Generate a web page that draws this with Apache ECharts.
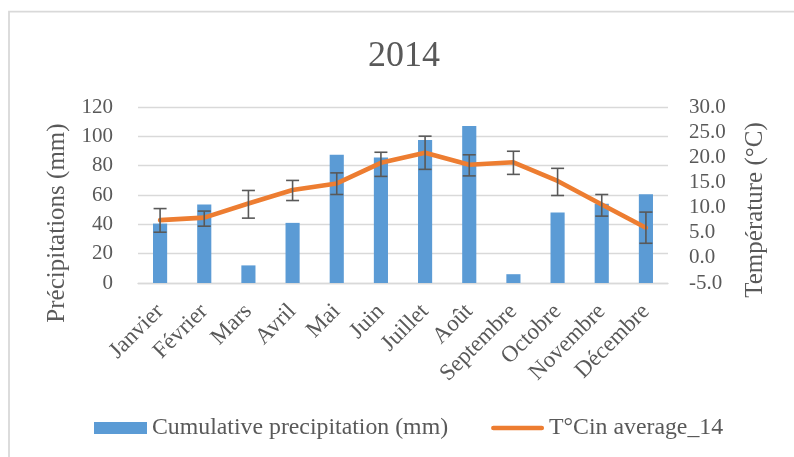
<!DOCTYPE html>
<html>
<head>
<meta charset="utf-8">
<script src="https://cdn.jsdelivr.net/npm/echarts@6/dist/echarts.min.js"></script>
<style>
  html, body { margin: 0; padding: 0; background: #ffffff; }
  #chart { width: 794px; height: 457px; }
</style>
</head>
<body>
<div id="chart"></div>
<script>
// Monthly data for 2014
const months = ['Janvier', 'Février', 'Mars', 'Avril', 'Mai', 'Juin', 'Juillet', 'Août', 'Septembre', 'Octobre', 'Novembre', 'Décembre'];
const precipitation = [40.5, 53.5, 12, 41, 87.5, 85.5, 97.5, 107, 6, 48, 54, 60.5];
const temperature = [7.5, 8.0, 10.8, 13.5, 14.8, 18.9, 20.9, 18.5, 19.0, 15.3, 10.6, 6.0];
const temperatureLow = [5.1, 6.3, 7.9, 11.4, 12.6, 16.2, 17.6, 16.3, 16.6, 12.4, 8.3, 2.9];
const temperatureHigh = [9.8, 9.3, 13.4, 15.4, 16.9, 21.0, 24.2, 20.5, 21.2, 17.8, 12.6, 9.1];

const precipName = 'Cumulative precipitation (mm)';
const tempName = 'T°Cin average_14';

const FONT = '"Liberation Serif", "Times New Roman", serif';
const TEXT = '#595959';
const GRID = '#d9d9d9';
const BLUE = '#5b9bd5';
const ORANGE = '#ed7d31';

// thin bar with rounded ends, used as the legend key of the temperature line
const LINE_KEY = 'path://M2.5 0H53.5A2.5 2.5 0 0 1 53.5 5H2.5A2.5 2.5 0 0 1 2.5 0Z';

const chart = echarts.init(document.getElementById('chart'), null, { renderer: 'canvas' });

// whisker drawn for each month: vertical stem plus two caps
function renderErrorBar(params, api) {
  const hi = api.coord([api.value(0), api.value(2)]);
  const lo = api.coord([api.value(0), api.value(1)]);
  const half = 6.5;
  const style = { stroke: '#595959', lineWidth: 1.6, fill: null };
  return {
    type: 'group',
    children: [
      { type: 'line', shape: { x1: hi[0], y1: hi[1], x2: lo[0], y2: lo[1] }, style: style },
      { type: 'line', shape: { x1: hi[0] - half, y1: hi[1], x2: hi[0] + half, y2: hi[1] }, style: style },
      { type: 'line', shape: { x1: lo[0] - half, y1: lo[1], x2: lo[0] + half, y2: lo[1] }, style: style }
    ]
  };
}

const option = {
  backgroundColor: '#ffffff',
  animation: false,
  textStyle: { fontFamily: FONT, color: TEXT },
  title: {
    text: '2014',
    left: 399,
    textAlign: 'center',
    top: 34,
    textStyle: { fontFamily: FONT, fontSize: 36, fontWeight: 'normal', color: TEXT }
  },
  graphic: [
    {
      type: 'rect',
      shape: { x: 9, y: 11.7, width: 820, height: 480 },
      style: { fill: null, stroke: GRID, lineWidth: 1.8 },
      silent: true
    }
  ],
  legend: {
    left: 94,
    top: 416,
    padding: 0,
    itemGap: 43,
    itemWidth: 53,
    itemHeight: 12,
    textStyle: { fontFamily: FONT, fontSize: 23.8, color: TEXT },
    data: [
      { name: precipName, icon: 'rect', itemStyle: { color: BLUE } },
      { name: tempName, icon: LINE_KEY, itemStyle: { color: ORANGE, borderWidth: 0 } }
    ]
  },
  grid: {
    left: 138,
    right: 126,
    top: 107,
    bottom: 174,
    outerBoundsMode: 'none'
  },
  xAxis: {
    type: 'category',
    data: months,
    axisLine: { lineStyle: { color: GRID, width: 1.4 } },
    axisTick: { show: false },
    axisLabel: {
      rotate: 45,
      margin: 25,
      fontFamily: FONT,
      fontSize: 23,
      color: TEXT,
      interval: 0
    }
  },
  yAxis: [
    {
      type: 'value',
      min: 0,
      max: 120,
      interval: 20,
      name: 'Précipitations (mm)',
      nameLocation: 'middle',
      nameRotate: 90,
      nameGap: 68,
      nameTextStyle: { fontFamily: FONT, fontSize: 25, color: TEXT, padding: [0, 56, 0, 0] },
      axisLine: { show: false },
      axisTick: { show: false },
      splitLine: { lineStyle: { color: GRID, width: 1.4 } },
      axisLabel: { fontFamily: FONT, fontSize: 21, color: TEXT, margin: 25 }
    },
    {
      type: 'value',
      min: -5,
      max: 30,
      interval: 5,
      position: 'right',
      name: 'Température (°C)',
      nameLocation: 'middle',
      nameRotate: 90,
      nameGap: 75,
      nameTextStyle: { fontFamily: FONT, fontSize: 25, color: TEXT, padding: [0, 30, 0, 0] },
      axisLine: { show: false },
      axisTick: { show: false },
      splitLine: { show: false },
      axisLabel: {
        fontFamily: FONT,
        fontSize: 21,
        color: TEXT,
        margin: 21,
        formatter: function (v) { return v.toFixed(1); }
      }
    }
  ],
  series: [
    {
      name: precipName,
      type: 'bar',
      yAxisIndex: 0,
      data: precipitation,
      barWidth: '32%',
      itemStyle: { color: BLUE },
      z: 2
    },
    {
      name: tempName,
      type: 'line',
      yAxisIndex: 1,
      data: temperature,
      showSymbol: false,
      symbol: 'none',
      lineStyle: { color: ORANGE, width: 4.6, cap: 'round', join: 'round' },
      itemStyle: { color: ORANGE },
      z: 3
    },
    {
      name: 'errorBars',
      type: 'custom',
      yAxisIndex: 1,
      renderItem: renderErrorBar,
      encode: { x: 0, y: [1, 2] },
      data: months.map(function (m, i) { return [i, temperatureLow[i], temperatureHigh[i]]; }),
      silent: true,
      z: 4
    }
  ]
};

chart.setOption(option);
</script>
</body>
</html>
